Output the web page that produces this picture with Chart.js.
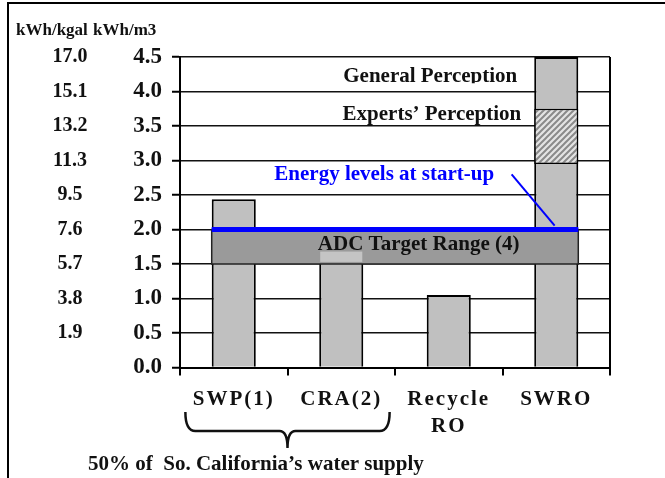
<!DOCTYPE html>
<html><head><meta charset="utf-8">
<script src="https://cdn.jsdelivr.net/npm/chart.js@4/dist/chart.umd.min.js"></script>
<style>html,body{margin:0;padding:0;background:#fff;overflow:hidden}</style>
</head><body>
<canvas id="c" width="665" height="478"></canvas>
<script>
// ---- data ----
const categories = ['SWP(1)', 'CRA(2)', ['Recycle', 'RO'], 'SWRO'];
const energyKwhM3 = [2.44, 1.68, 1.05, 4.5];
const expertsRange = [null, null, null, [2.95, 3.75]];
const adcTargetRange = [1.5, 2.0];
const startupLevel = 2.0;
const kwhM3Ticks = ['0.0','0.5','1.0','1.5','2.0','2.5','3.0','3.5','4.0','4.5'];
const kwhKgalTicks = ['', '1.9','3.8','5.7','7.6','9.5','11.3','13.2','15.1','17.0'];

const SERIF = '"Liberation Serif", "Times New Roman", serif';

function hatchPattern() {
  const c = document.createElement('canvas');
  c.width = 6; c.height = 6;
  const g = c.getContext('2d');
  g.fillStyle = '#e4e4e4'; g.fillRect(0, 0, 6, 6);
  g.strokeStyle = '#8a8a8a'; g.lineWidth = 2;
  g.beginPath();
  g.moveTo(-3, 3); g.lineTo(3, -3);
  g.moveTo(0, 6); g.lineTo(6, 0);
  g.moveTo(3, 9); g.lineTo(9, 3);
  g.stroke();
  return document.getElementById('c').getContext('2d').createPattern(c, 'repeat');
}

const annot = {
  id: 'annot',
  beforeDraw(chart) {
    const ctx = chart.ctx;
    ctx.save();
    ctx.strokeStyle = '#000'; ctx.lineWidth = 2;
    ctx.beginPath(); ctx.moveTo(8, 478); ctx.lineTo(8, 3); ctx.lineTo(665, 3); ctx.stroke();
    ctx.restore();
    const s = chart.scales.x;
    if (!s._ls) {
      const o = s.drawLabels;
      s.drawLabels = function (a) { this.ctx.save(); this.ctx.letterSpacing = '2px'; o.call(this, a); this.ctx.restore(); };
      s._ls = true;
    }
  },
  beforeDatasetsDraw(chart) {
    const {ctx, chartArea: ca} = chart;
    ctx.save();
    ctx.strokeStyle = '#000'; ctx.lineWidth = 2;
    ctx.beginPath(); ctx.moveTo(ca.right, ca.top); ctx.lineTo(ca.right, ca.bottom); ctx.stroke();
    ctx.restore();
  },
  afterDatasetsDraw(chart) {
    const {ctx, scales: {x, y}} = chart;
    const meta = chart.getDatasetMeta(0);
    const b0 = meta.data[0], b1 = meta.data[1], b3 = meta.data[3];
    const left = b0.x - b0.width / 2, right = b3.x + b3.width / 2;
    const yTop = y.getPixelForValue(adcTargetRange[1]), yBot = y.getPixelForValue(adcTargetRange[0]);
    ctx.save();
    // ADC target band
    ctx.fillStyle = '#9a9a9a';
    ctx.fillRect(left, yTop, right - left, yBot - yTop);
    ctx.strokeStyle = '#222'; ctx.lineWidth = 1.5;
    ctx.strokeRect(left, yTop, right - left, yBot - yTop);
    // light patch of CRA bar showing through
    const pTop = y.getPixelForValue(energyKwhM3[1]), pBot = y.getPixelForValue(1.53);
    ctx.fillStyle = '#c4c4c4';
    ctx.fillRect(b1.x - b1.width / 2 + 1, pTop, b1.width - 2, pBot - pTop);
    // start-up level line
    const yS = y.getPixelForValue(startupLevel);
    ctx.strokeStyle = '#0000ff'; ctx.lineWidth = 5;
    ctx.beginPath(); ctx.moveTo(left, yS); ctx.lineTo(right, yS); ctx.stroke();
    // pointer line
    ctx.lineWidth = 2;
    ctx.beginPath();
    ctx.moveTo(x.getPixelForValue(2.585), y.getPixelForValue(2.8));
    ctx.lineTo(x.getPixelForValue(2.985), y.getPixelForValue(2.055));
    ctx.stroke();
    // texts
    ctx.textBaseline = 'middle';
    ctx.font = 'bold 21px ' + SERIF;
    ctx.fillStyle = '#0000ff'; ctx.textAlign = 'center';
    ctx.fillText('Energy levels at start-up', x.getPixelForValue(1.4), y.getPixelForValue(2.79));
    ctx.fillStyle = '#111';
    ctx.fillText('ADC Target Range (4)', x.getPixelForValue(1.72), y.getPixelForValue(1.78));
    const barLeft = b3.x - b3.width / 2;
    ctx.textAlign = 'right';
    ctx.fillText('Experts\u2019 Perception', barLeft - 13, y.getPixelForValue(3.67));
    ctx.save();
    ctx.beginPath(); ctx.rect(0, 0, 665, y.getPixelForValue(4.12)); ctx.clip();
    ctx.fillText('General Perception', barLeft - 17, y.getPixelForValue(4.21));
    ctx.restore();
    // brace under SWP / CRA
    const L = x.getPixelForValue(-0.45), R = x.getPixelForValue(1.45), M = (x.getPixelForValue(0) + x.getPixelForValue(1)) / 2;
    const t = 412, h = 431, p = 448;
    ctx.strokeStyle = '#111'; ctx.lineWidth = 2.5;
    ctx.beginPath();
    ctx.moveTo(L, t); ctx.quadraticCurveTo(L, h, L + 10, h);
    ctx.lineTo(M - 8, h); ctx.quadraticCurveTo(M, h, M, p);
    ctx.quadraticCurveTo(M, h, M + 8, h);
    ctx.lineTo(R - 10, h); ctx.quadraticCurveTo(R, h, R, t);
    ctx.stroke();
    // header & footer
    ctx.textAlign = 'left';
    ctx.font = 'bold 17px ' + SERIF;
    ctx.fillText('kWh/kgal', 16, 31);
    ctx.fillText('kWh/m3', 93, 31);
    ctx.font = 'bold 21px ' + SERIF;
    ctx.fillText('50% of  So. California\u2019s water supply', 88, 465);
    ctx.restore();
  }
};

new Chart(document.getElementById('c'), {
  type: 'bar',
  data: {
    labels: categories,
    datasets: [
      {
        label: 'Energy',
        data: energyKwhM3,
        backgroundColor: '#c0c0c0',
        borderColor: '#000',
        borderWidth: 2,
        barPercentage: 0.41,
        categoryPercentage: 1,
        order: 1
      },
      {
        label: 'Experts',
        data: expertsRange,
        backgroundColor: hatchPattern(),
        borderColor: '#000',
        borderWidth: 1.5,
        borderSkipped: false,
        barPercentage: 0.41,
        categoryPercentage: 1,
        grouped: false,
        order: 0
      }
    ]
  },
  options: {
    responsive: false,
    animation: false,
    devicePixelRatio: 1,
    layout: { padding: { left: 30, right: 55, top: 57, bottom: 30.5 } },
    plugins: { legend: { display: false }, tooltip: { enabled: false } },
    scales: {
      x: {
        offset: true,
        grid: { offset: true, drawOnChartArea: false, drawTicks: true, tickLength: 8, color: '#000', lineWidth: 2 },
        border: { display: true, color: '#000', width: 2 },
        ticks: { color: '#111', padding: 10, maxRotation: 0, autoSkip: false,
                  font: { family: SERIF, weight: 'bold', size: 21, lineHeight: 1.3 } },
        afterFit(s) { s.height = 80; }
      },
      y: {
        position: 'left',
        weight: 0,
        min: 0, max: 4.5,
        ticks: { stepSize: 0.5, padding: 10, color: '#111',
                 font: { family: SERIF, weight: 'bold', size: 23 },
                 callback: (v, i) => kwhM3Ticks[i] },
        grid: { color: '#111', lineWidth: 1.5, tickLength: 8, tickColor: '#000', tickWidth: 2 },
        border: { display: true, color: '#000', width: 2 },
        afterFit(s) { s.width = 80; }
      },
      y2: {
        position: 'left',
        weight: 1,
        min: 0, max: 4.5,
        ticks: { stepSize: 0.5, padding: 4.5, crossAlign: 'center', color: '#111',
                 font: { family: SERIF, weight: 'bold', size: 20 },
                 callback: (v, i) => kwhKgalTicks[i] },
        grid: { display: false },
        border: { display: false },
        afterFit(s) { s.width = 70; }
      }
    }
  },
  plugins: [annot]
});
</script>
</body></html>
